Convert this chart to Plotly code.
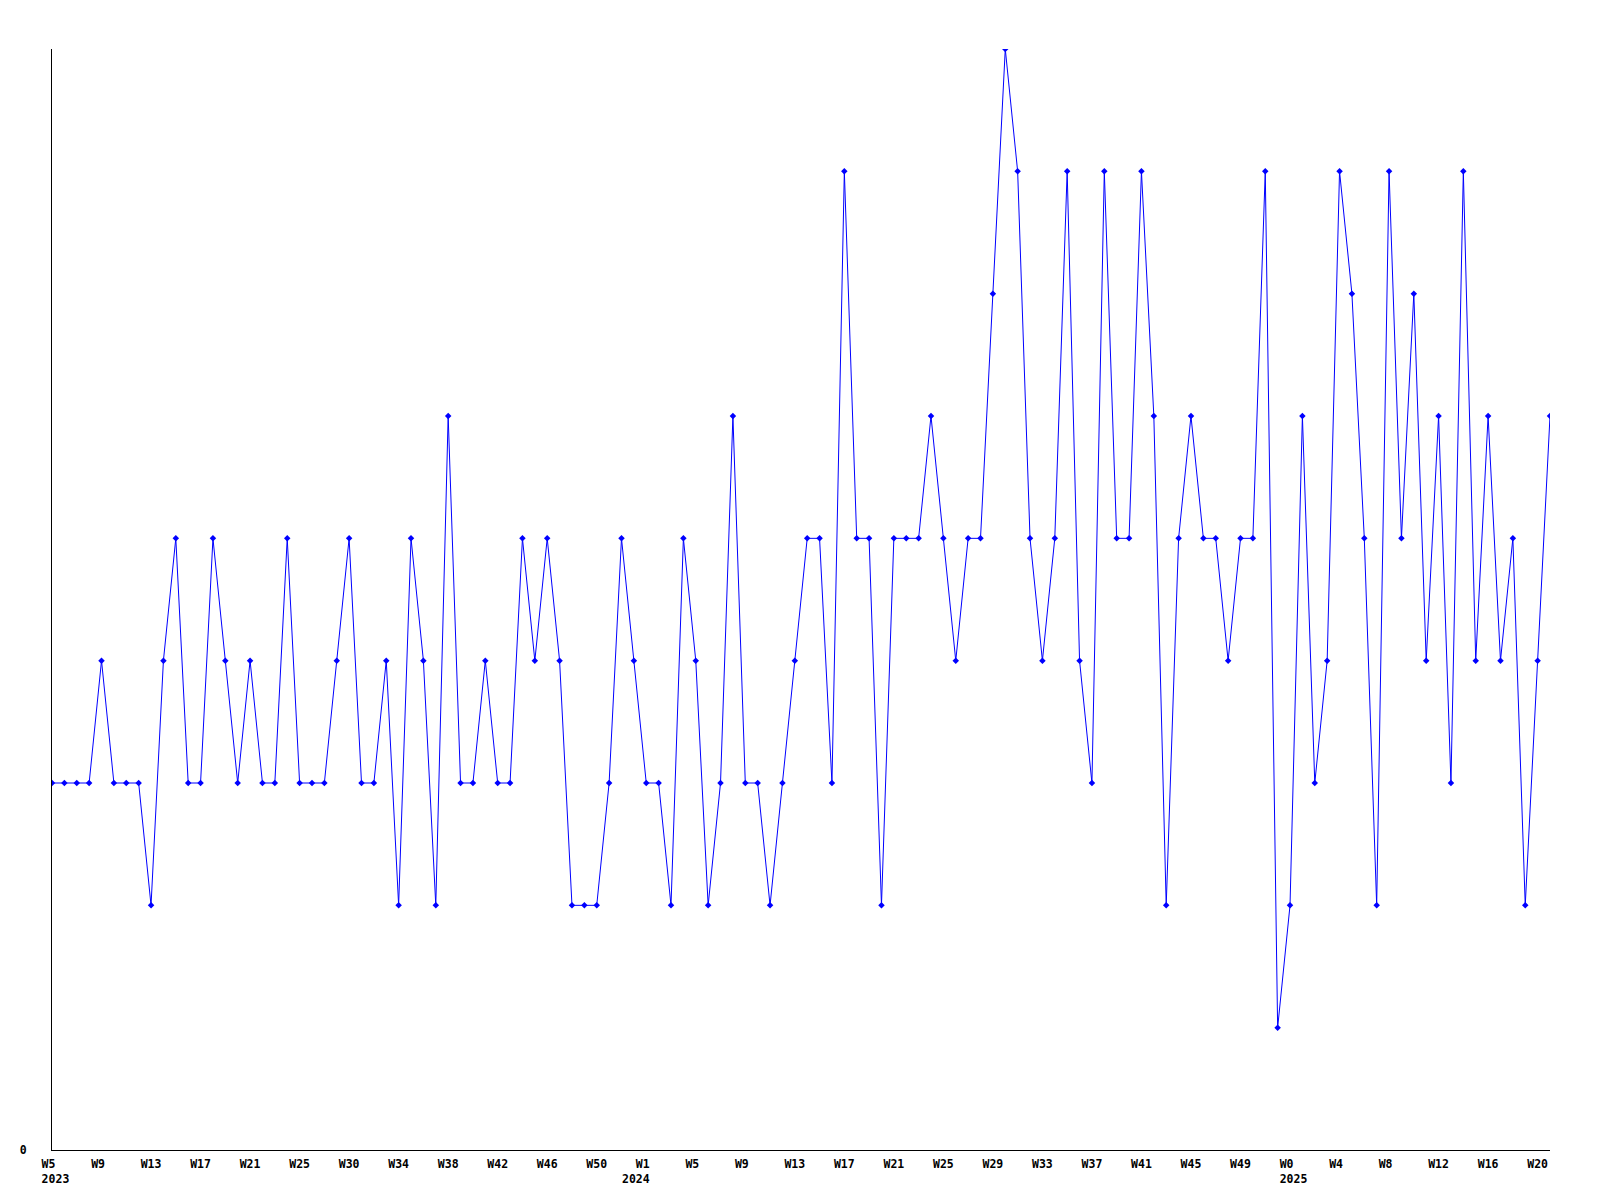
import plotly.graph_objects as go

# Weekly values (2023 W5 ... 2025 W21)
values = [
    3, 3, 3, 3, 4, 3, 3, 3, 2, 4,
    5, 3, 3, 5, 4, 3, 4, 3, 3, 5,
    3, 3, 3, 4, 5, 3, 3, 4, 2, 5,
    4, 2, 6, 3, 3, 4, 3, 3, 5, 4,
    5, 4, 2, 2, 2, 3, 5, 4, 3, 3,
    2, 5, 4, 2, 3, 6, 3, 3, 2, 3,
    4, 5, 5, 3, 8, 5, 5, 2, 5, 5,
    5, 6, 5, 4, 5, 5, 7, 9, 8, 5,
    4, 5, 8, 4, 3, 8, 5, 5, 8, 6,
    2, 5, 6, 5, 5, 4, 5, 5, 8, 1,
    2, 6, 3, 4, 8, 7, 5, 2, 8, 5,
    7, 4, 6, 3, 8, 4, 6, 4, 5, 2,
    4, 6,
]

# Tick labels (every 4th week)
week_labels = ["W5", "W9", "W13", "W17", "W21", "W25", "W30", "W34", "W38", "W42",
               "W46", "W50", "W1", "W5", "W9", "W13", "W17", "W21", "W25", "W29",
               "W33", "W37", "W41", "W45", "W49", "W0", "W4", "W8", "W12", "W16", "W20"]
year_labels = {0: "\u00a02023", 12: "2024\u00a0\u00a0\u00a0", 25: "\u00a02025"}
tick_step = 4

x = list(range(len(values)))
tickvals = [i * tick_step for i in range(len(week_labels))]
ticktext = []
for i, w in enumerate(week_labels):
    t = w + "\u00a0" * (3 - len(w))
    if i in year_labels:
        t += "<br>" + year_labels[i]
    ticktext.append(t)

font = dict(family="DejaVu Sans Mono", size=11.5, color="black", weight="bold")

fig = go.Figure()
fig.add_trace(go.Scatter(
    x=x, y=values, mode="lines+markers",
    line=dict(color="#0000ff", width=1),
    marker=dict(symbol="diamond", size=5, color="#0000ff"),
    showlegend=False, hoverinfo="skip",
))

fig.update_layout(
    width=1592, height=1192,
    margin=dict(l=42, r=50, t=41, b=50),
    paper_bgcolor="white", plot_bgcolor="white",
    font=font,
)
fig.update_xaxes(
    range=[0, len(values) - 1], showgrid=False, zeroline=False,
    showline=True, linecolor="black", linewidth=1,
    tickvals=tickvals, ticktext=ticktext, ticks="",
    tickfont=font, tickangle=0, ticklabelstandoff=3,
)
fig.update_yaxes(
    range=[0, 9], showgrid=False, zeroline=False,
    showline=True, linecolor="black", linewidth=1,
    tickvals=[0], ticktext=["0"], ticks="",
    tickfont=font, ticklabelstandoff=22,
)

fig.write_html("out.html")
